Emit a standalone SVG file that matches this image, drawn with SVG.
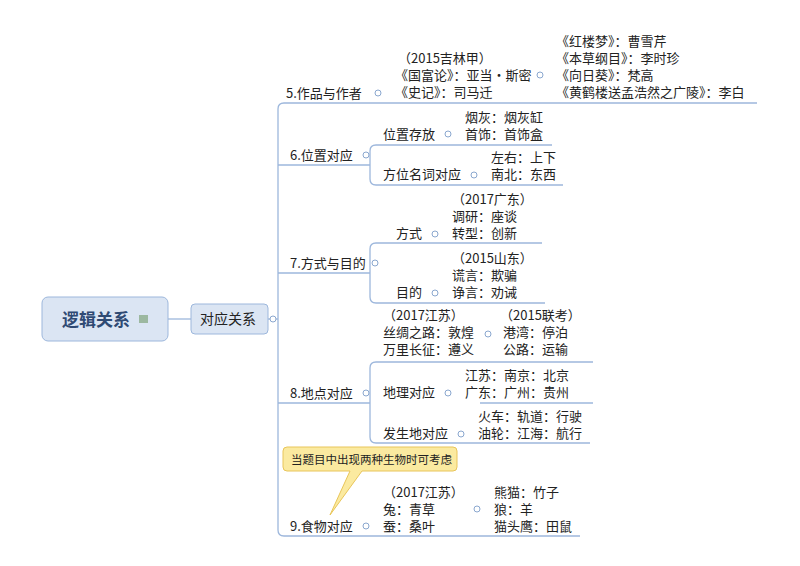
<svg xmlns="http://www.w3.org/2000/svg" width="800" height="566" viewBox="0 0 800 566">
<style>
text{font-family:"Noto Sans CJK SC","Noto Sans",sans-serif;font-size:13px;fill:#222}
.ln{fill:none;stroke:#9db7dc;stroke-width:1.3}
.c{fill:#fff;stroke:#8aa7cf;stroke-width:1}
</style>
<rect width="800" height="566" fill="#fff"/>
<g id="connectors">
<path class="ln" d="M168,319 H191"/>
<path class="ln" d="M268,319 H278"/>
<path class="ln" d="M757,103 H284 Q278,103 278,109 V530 Q278,536 284,536 H580"/>
<path class="ln" d="M278,165 H370"/>
<path class="ln" d="M552,145 H376 Q370,145 370,151 V179 Q370,185 376,185 H563"/>
<path class="ln" d="M278,273 H370"/>
<path class="ln" d="M542,243 H376 Q370,243 370,249 V297 Q370,303 376,303 H545"/>
<path class="ln" d="M278,403 H370"/>
<path class="ln" d="M593,362 H376 Q370,362 370,368 V437 Q370,443 376,443 H590"/>
<path class="ln" d="M480,403 H593"/>
</g>
<g id="root"><rect x="42" y="297" width="126" height="44" rx="6" fill="#dbe5f3" stroke="#9db7dc"/><text x="62" y="326" style="font-size:17px;font-weight:bold;fill:#2f4a73">逻辑关系</text><rect x="139" y="315" width="9" height="8" fill="#9cb8a0"/></g>
<g id="n-duiying"><rect x="191" y="304" width="77" height="30" rx="4" fill="#dbe5f3" stroke="#9db7dc"/><text x="200" y="324" style="font-size:14px">对应关系</text><circle class="c" cx="273" cy="319" r="3"/></g>
<g id="n5"><text x="286" y="98">5.作品与作者</text><circle class="c" cx="378" cy="93" r="3"/>
<text x="398" y="63">（2015吉林甲）</text><text x="395" y="80">《国富论》：亚当·斯密</text><text x="395" y="97">《史记》：司马迁</text><circle class="c" cx="540" cy="75" r="3"/>
<text x="556" y="46">《红楼梦》：曹雪芹</text><text x="556" y="63">《本草纲目》：李时珍</text><text x="556" y="80">《向日葵》：梵高</text><text x="556" y="97">《黄鹤楼送孟浩然之广陵》：李白</text></g>
<g id="n6"><text x="290" y="160">6.位置对应</text><circle class="c" cx="366" cy="155" r="3"/>
<text x="383" y="139">位置存放</text><circle class="c" cx="448" cy="134" r="3"/><text x="465" y="122">烟灰：烟灰缸</text><text x="465" y="139">首饰：首饰盒</text>
<text x="383" y="179">方位名词对应</text><circle class="c" cx="474" cy="175" r="3"/><text x="491" y="162">左右：上下</text><text x="491" y="179">南北：东西</text></g>
<g id="n7"><text x="290" y="268">7.方式与目的</text><circle class="c" cx="375" cy="263" r="3"/>
<text x="452" y="204">（2017广东）</text><text x="452" y="221">调研：座谈</text><text x="452" y="238">转型：创新</text><text x="396" y="238">方式</text><circle class="c" cx="435" cy="234" r="3"/>
<text x="452" y="263">（2015山东）</text><text x="452" y="280">谎言：欺骗</text><text x="452" y="297">诤言：劝诫</text><text x="396" y="297">目的</text><circle class="c" cx="435" cy="293" r="3"/></g>
<g id="n8"><text x="290" y="398">8.地点对应</text><circle class="c" cx="366" cy="393" r="3"/>
<text x="383" y="320">（2017江苏）</text><text x="383" y="337">丝绸之路：敦煌</text><text x="383" y="354">万里长征：遵义</text><circle class="c" cx="488" cy="334" r="3"/>
<text x="500" y="320">（2015联考）</text><text x="503" y="337">港湾：停泊</text><text x="503" y="354">公路：运输</text>
<text x="383" y="397">地理对应</text><circle class="c" cx="448" cy="393" r="3"/><text x="465" y="380">江苏：南京：北京</text><text x="465" y="397">广东：广州：贵州</text>
<text x="383" y="438">发生地对应</text><circle class="c" cx="461" cy="434" r="3"/><text x="478" y="421">火车：轨道：行驶</text><text x="478" y="438">油轮：江海：航行</text></g>
<g id="callout"><path d="M287,447 H453 Q457,447 457,451 V467 Q457,471 453,471 H362 L330,515 L350,471 H287 Q283,471 283,467 V451 Q283,447 287,447 Z" fill="#fbeaa0" stroke="#e8c55a"/><text x="291" y="464" style="font-size:11.5px">当题目中出现两种生物时可考虑</text></g>
<g id="n9"><text x="290" y="531">9.食物对应</text><circle class="c" cx="366" cy="526" r="3"/>
<text x="383" y="497">（2017江苏）</text><text x="383" y="514">兔：青草</text><text x="383" y="531">蚕：桑叶</text><circle class="c" cx="477" cy="509" r="3"/>
<text x="494" y="497">熊猫：竹子</text><text x="494" y="514">狼：羊</text><text x="494" y="531">猫头鹰：田鼠</text></g>
</svg>
